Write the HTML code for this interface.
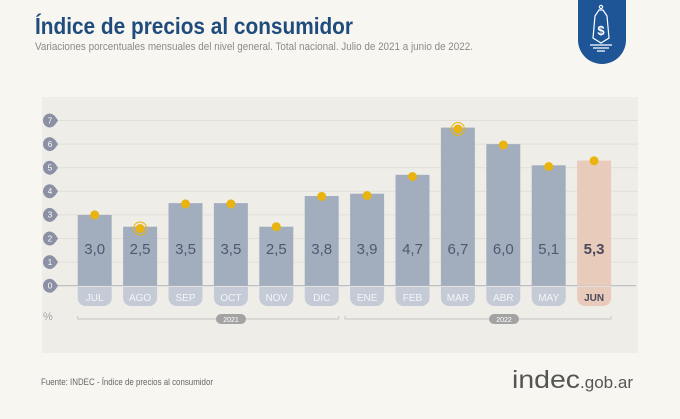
<!DOCTYPE html>
<html><head><meta charset="utf-8"><style>
html,body{margin:0;padding:0;background:#f8f6f1;}
svg{display:block;font-family:"Liberation Sans",sans-serif;}
</style></head><body>
<svg width="680" height="419" viewBox="0 0 680 419" xmlns="http://www.w3.org/2000/svg">
<rect width="680" height="419" fill="#f8f6f1"/>
<text x="35" y="34" font-size="23" font-weight="bold" fill="#1f4c7c" textLength="318" lengthAdjust="spacingAndGlyphs">Índice de precios al consumidor</text>
<text x="35" y="50" font-size="11" fill="#8a8a8a" textLength="438" lengthAdjust="spacingAndGlyphs">Variaciones porcentuales mensuales del nivel general. Total nacional. Julio de 2021 a junio de 2022.</text>
<!-- logo -->
<path d="M578 0 H626 V40 A24 24 0 0 1 578 40 Z" fill="#1d5597"/>
<g stroke="#fff" stroke-width="1.2" fill="none">
<path d="M599 10 L595 16 L593 38 L601 43 L609 38 L607 16 L603 10 Z"/>
<circle cx="601" cy="7" r="1.6"/>
<path d="M590 45 H612 M593 48 H609 M597 51 H605"/>
</g>
<text x="601" y="35" font-size="13" font-weight="bold" fill="#fff" text-anchor="middle">$</text>
<!-- panel -->
<rect x="42" y="97" width="596" height="256" fill="#efede8"/>
<g stroke="#e2dfd8" stroke-width="1">
<line x1="55" y1="262.1" x2="638" y2="262.1"/><line x1="55" y1="238.5" x2="638" y2="238.5"/>
<line x1="55" y1="214.9" x2="638" y2="214.9"/><line x1="55" y1="191.3" x2="638" y2="191.3"/>
<line x1="55" y1="167.7" x2="638" y2="167.7"/><line x1="55" y1="144.1" x2="638" y2="144.1"/>
<line x1="55" y1="120.5" x2="638" y2="120.5"/>
</g>
<line x1="55" y1="285.7" x2="636" y2="285.7" stroke="#b9b9bd" stroke-width="1.2"/>
<g id="yax" fill="#8b90a4">
</g>
<g font-size="8" fill="#fff" text-anchor="middle">
<path d="M50 278.7a7 7 0 1 0 0 14 q4 0 8-7 q-4-7-8-7z" fill="#8b90a4"/><text x="50" y="288.5">0</text>
<path d="M50 255.1a7 7 0 1 0 0 14 q4 0 8-7 q-4-7-8-7z" fill="#8b90a4"/><text x="50" y="264.9">1</text>
<path d="M50 231.5a7 7 0 1 0 0 14 q4 0 8-7 q-4-7-8-7z" fill="#8b90a4"/><text x="50" y="241.3">2</text>
<path d="M50 207.9a7 7 0 1 0 0 14 q4 0 8-7 q-4-7-8-7z" fill="#8b90a4"/><text x="50" y="217.7">3</text>
<path d="M50 184.3a7 7 0 1 0 0 14 q4 0 8-7 q-4-7-8-7z" fill="#8b90a4"/><text x="50" y="194.1">4</text>
<path d="M50 160.7a7 7 0 1 0 0 14 q4 0 8-7 q-4-7-8-7z" fill="#8b90a4"/><text x="50" y="170.5">5</text>
<path d="M50 137.1a7 7 0 1 0 0 14 q4 0 8-7 q-4-7-8-7z" fill="#8b90a4"/><text x="50" y="146.9">6</text>
<path d="M50 113.5a7 7 0 1 0 0 14 q4 0 8-7 q-4-7-8-7z" fill="#8b90a4"/><text x="50" y="123.3">7</text>
</g>
<text x="43" y="320" font-size="11" fill="#a5a5a8">%</text>
<g id="bars"></g>
<!-- bars generated inline -->
<g font-size="15" text-anchor="middle">
<rect x="77.7" y="214.9" width="34" height="70.8" fill="#a2aebe"/>
<rect x="123.1" y="226.7" width="34" height="59" fill="#a2aebe"/>
<rect x="168.5" y="203.1" width="34" height="82.6" fill="#a2aebe"/>
<rect x="213.9" y="203.1" width="34" height="82.6" fill="#a2aebe"/>
<rect x="259.3" y="226.7" width="34" height="59" fill="#a2aebe"/>
<rect x="304.7" y="196.0" width="34" height="89.7" fill="#a2aebe"/>
<rect x="350.1" y="193.7" width="34" height="92" fill="#a2aebe"/>
<rect x="395.5" y="174.8" width="34" height="110.9" fill="#a2aebe"/>
<rect x="440.9" y="127.6" width="34" height="158.1" fill="#a2aebe"/>
<rect x="486.3" y="144.1" width="34" height="141.6" fill="#a2aebe"/>
<rect x="531.7" y="165.3" width="34" height="120.4" fill="#a2aebe"/>
<rect x="577.1" y="160.6" width="34" height="125.1" fill="#e8cbbb"/>
<g fill="#4f586f">
<text x="94.7" y="254">3,0</text><text x="140.1" y="254">2,5</text><text x="185.5" y="254">3,5</text>
<text x="230.9" y="254">3,5</text><text x="276.3" y="254">2,5</text><text x="321.7" y="254">3,8</text>
<text x="367.1" y="254">3,9</text><text x="412.5" y="254">4,7</text><text x="457.9" y="254">6,7</text>
<text x="503.3" y="254">6,0</text><text x="548.7" y="254">5,1</text>
</g>
<text x="594.1" y="254" font-weight="bold" fill="#4a4a5c">5,3</text>
</g>
<g fill="#e9b40f">
<circle cx="94.7" cy="214.9" r="4.5"/>
<circle cx="140.1" cy="228.5" r="4.5"/><circle cx="140.1" cy="228.5" r="6.5" fill="none" stroke="#e9b40f" stroke-width="1"/>
<circle cx="185.5" cy="203.9" r="4.5"/><circle cx="230.9" cy="203.9" r="4.5"/>
<circle cx="276.3" cy="226.7" r="4.5"/><circle cx="321.7" cy="196.4" r="4.5"/>
<circle cx="367.1" cy="195.5" r="4.5"/><circle cx="412.5" cy="176.5" r="4.5"/>
<circle cx="457.9" cy="129" r="4.5"/><circle cx="457.9" cy="129" r="6.5" fill="none" stroke="#e9b40f" stroke-width="1"/>
<circle cx="503.3" cy="145" r="4.5"/><circle cx="548.7" cy="166.5" r="4.5"/>
<circle cx="594.1" cy="160.8" r="4.5"/>
</g>
<!-- month pills -->
<g fill="#c4cbd7">
<path d="M77.7 287h34v11a8 8 0 0 1-8 8h-18a8 8 0 0 1-8-8z"/>
<path d="M123.1 287h34v11a8 8 0 0 1-8 8h-18a8 8 0 0 1-8-8z"/>
<path d="M168.5 287h34v11a8 8 0 0 1-8 8h-18a8 8 0 0 1-8-8z"/>
<path d="M213.9 287h34v11a8 8 0 0 1-8 8h-18a8 8 0 0 1-8-8z"/>
<path d="M259.3 287h34v11a8 8 0 0 1-8 8h-18a8 8 0 0 1-8-8z"/>
<path d="M304.7 287h34v11a8 8 0 0 1-8 8h-18a8 8 0 0 1-8-8z"/>
<path d="M350.1 287h34v11a8 8 0 0 1-8 8h-18a8 8 0 0 1-8-8z"/>
<path d="M395.5 287h34v11a8 8 0 0 1-8 8h-18a8 8 0 0 1-8-8z"/>
<path d="M440.9 287h34v11a8 8 0 0 1-8 8h-18a8 8 0 0 1-8-8z"/>
<path d="M486.3 287h34v11a8 8 0 0 1-8 8h-18a8 8 0 0 1-8-8z"/>
<path d="M531.7 287h34v11a8 8 0 0 1-8 8h-18a8 8 0 0 1-8-8z"/>
<path d="M577.1 287h34v11a8 8 0 0 1-8 8h-18a8 8 0 0 1-8-8z" fill="#e8cbbb"/>
</g>
<g font-size="10" fill="#f4f5f8" text-anchor="middle">
<text x="94.7" y="301">JUL</text><text x="140.1" y="301">AGO</text><text x="185.5" y="301">SEP</text>
<text x="230.9" y="301">OCT</text><text x="276.3" y="301">NOV</text><text x="321.7" y="301">DIC</text>
<text x="367.1" y="301">ENE</text><text x="412.5" y="301">FEB</text><text x="457.9" y="301">MAR</text>
<text x="503.3" y="301">ABR</text><text x="548.7" y="301">MAY</text>
<text x="594.1" y="301" font-weight="bold" fill="#4a4a5c">JUN</text>
</g>
<!-- year brackets -->
<g stroke="#c5c5c5" stroke-width="1" fill="none">
<path d="M77.7 316v3H338.7v-3"/>
<path d="M345 316v3H611v-3"/>
</g>
<rect x="216" y="314" width="30" height="10" rx="5" fill="#a3a3a3"/>
<text x="231" y="322" font-size="7" fill="#fff" text-anchor="middle">2021</text>
<rect x="489" y="314" width="30" height="10" rx="5" fill="#a3a3a3"/>
<text x="504" y="322" font-size="7" fill="#fff" text-anchor="middle">2022</text>
<!-- footer -->
<text x="41" y="385" font-size="9" fill="#666" textLength="172" lengthAdjust="spacingAndGlyphs">Fuente: INDEC - Índice de precios al consumidor</text>
<text x="512" y="388" font-size="25" fill="#555" textLength="68" lengthAdjust="spacingAndGlyphs">indec</text>
<text x="580" y="388" font-size="17" fill="#555" textLength="53" lengthAdjust="spacingAndGlyphs">.gob.ar</text>
</svg>
</body></html>
